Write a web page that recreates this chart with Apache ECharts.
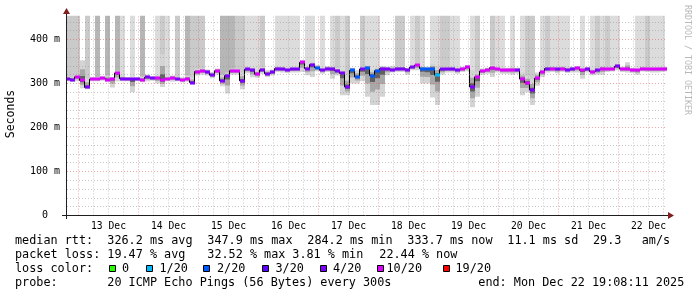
<!DOCTYPE html>
<html><head><meta charset="utf-8">
<script src="https://cdn.jsdelivr.net/npm/echarts@6/dist/echarts.min.js"></script>
<style>html,body{margin:0;padding:0;background:#fff}#c{width:697px;height:297px}</style>
</head><body><div id="c"></div>
<script>
// ---------- data (hours relative to 13 Dec 00:00) ----------
const START_HOUR = -4.6;
const END_HOUR = 235.4;
const STEP_HOURS = 2;
const Y_MAX = 454.5;

// median rtt (ms), one sample every STEP_HOURS
const median = [
 311,309,315,307,291,310,310,312,309,311,
 324,311,310,310,310,308,314,312,312,308,
 311,313,310,308,311,302,327,329,326,319,
 329,306,318,329,328,306,332,330,321,331,
 322,326,334,333,331,332,332,348,334,343,
 336,330,334,334,329,323,292,330,315,333,
 336,318,329,334,333,331,334,334,331,337,
 342,334,333,334,319,332,333,333,330,333,
 337,292,315,328,330,336,332,330,330,331,
 331,310,302,285,312,326,334,334,332,334,
 331,333,335,330,332,327,330,334,333,334,
 339,333,332,330,330,334,333,332,332,333,
 334];
// lost pings out of 20 per sample
const lossCount = [
 4,4,10,10,4,10,10,10,10,10,
 10,4,4,4,4,10,4,4,10,10,
 10,10,4,10,10,4,10,10,4,4,
 10,4,4,10,10,4,4,4,10,4,
 4,4,4,4,4,4,4,10,4,4,
 2,4,4,4,4,4,4,2,2,4,
 2,2,2,4,4,4,4,4,4,4,
 10,2,2,2,1,4,4,4,4,10,
 10,4,10,10,10,10,10,10,10,10,
 4,10,10,4,10,10,4,10,4,10,
 4,4,10,10,4,10,4,10,10,10,
 4,10,10,10,10,10,10,10,10,10,
 10];
// lowest ping per sample (ms)
const smokeMin = [
 305,304,305,289,287,305,305,306,304,291,
 305,305,305,280,305,303,305,306,300,292,
 305,304,305,303,304,298,318,320,318,312,
 320,294,277,320,320,287,323,314,313,322,
 315,318,326,325,324,325,325,326,319,315,
 328,322,326,311,318,273,273,300,300,305,
 270,251,251,270,319,325,326,326,320,330,
 330,300,300,268,251,320,325,325,322,326,
 328,246,270,320,322,315,325,322,322,320,
 322,273,280,251,295,315,325,326,323,326,
 324,325,325,311,325,319,320,320,326,327,
 330,326,325,324,320,327,326,325,325,326,
 327];
// highest on-scale ping per sample (ms)
const smokeMax = [
 316,314,318,353,312,314,315,316,318,315,
 328,318,315,314,314,316,320,316,318,366,
 316,318,315,314,318,315,334,334,332,326,
 334,320,325,334,334,325,338,336,330,338,
 330,332,340,338,336,338,338,352,340,348,
 342,336,340,338,336,330,318,336,330,338,
 342,332,336,340,338,340,340,340,336,342,
 346,340,338,344,340,338,338,338,336,338,
 342,330,325,334,336,342,338,336,336,337,
 336,325,318,310,325,332,340,340,338,340,
 338,338,340,336,338,334,336,340,338,338,
 345,338,348,336,334,338,338,337,337,338,
 338];
// density of pings above the graph top (0 = none .. 3 = many)
const upperSmoke = [
 2,2,2,0,2,0,3,0,3,0,3,1,0,1,0,3,0,0,1,2,1,0,2,0,3,
 2,2,2,0,0,0,3,3,3,2,2,1,1,1,2,0,0,1,1,1,1,1,0,1,1,
 0,1,0,1,2,1,2,0,0,2,1,1,1,0,0,0,2,2,0,1,2,1,0,1,1,
 2,2,1,1,0,0,1,2,0,0,2,1,1,0,1,0,1,2,2,0,1,2,1,1,1,
 1,0,0,1,0,1,2,1,2,1,1,0,0,0,1,1,2,1,1,1,0];

const dayLabels = ['13 Dec','14 Dec','15 Dec','16 Dec','17 Dec','18 Dec','19 Dec','20 Dec','21 Dec','22 Dec'];
const yTickValues = [0,100,200,300,400];
const yTickLabels = ['0  ','100 m','200 m','300 m','400 m'];
const lossLevels = [0,1,2,3,4,10,19];
const lossLabels = ['0','1/20','2/20','3/20','4/20','10/20','19/20'];
const lossColors = ['#26ff00','#00b8ff','#0059ff','#5e00ff','#7e00ff','#dd00ff','#ff0000'];
const statsRow1 = ['median rtt:','326.2 ms avg','347.9 ms max','284.2 ms min','333.7 ms now','11.1 ms sd','29.3','am/s'];
const statsRow2 = ['packet loss:','19.47 % avg','32.52 % max','3.81 % min','22.44 % now'];
const probeRow = ['probe:','20 ICMP Echo Pings (56 Bytes) every 300s','end: Mon Dec 22 19:08:11 2025'];

// ---------- layout ----------
const FONT = '"DejaVu Sans Mono", monospace';
const LEG_FONT = '11.8px ' + FONT;
const row1X = [15,107.3,207.3,307.3,407.3,507.3,593,641.7];
const row2X = [15,107.3,207.3,292.3,379.3];
const row4X = [15,107.3,478.3];
const rowY = [241,255,268.8,282.5];
const sqX = [109,146,203,262,320,377,443];
const sqLabelX = [122,159.5,217,275.5,333,386.5,455.5];
const GRID_MINOR = 'rgba(143,143,143,0.5)';
const GRID_MAJOR = 'rgba(222,79,79,0.5)';

function lossColor(n){let c=lossColors[0];for(let k=0;k<lossLevels.length;k++){if(n>=lossLevels[k])c=lossColors[k];}return c;}
const times = median.map((_,i)=>START_HOUR+i*STEP_HOURS);

const chart = echarts.init(document.getElementById('c'), null, {renderer:'canvas'});

function binX(api,t){
  const a = api.coord([t-STEP_HOURS/2,0])[0], b = api.coord([t+STEP_HOURS/2,0])[0];
  return [Math.round(a), Math.round(b)];
}
const upperShades = [null,'#dcdcdc','#cacaca','#b6b6b6'];

const gridMarks = [];
for(let h=0; h<=END_HOUR; h+=6){
  const major = h%24===0;
  gridMarks.push({xAxis:h, lineStyle:{color: major?GRID_MAJOR:GRID_MINOR, type:[1,2], width:1}});
}
for(let v=20; v<Y_MAX; v+=20){
  const major = v%100===0;
  gridMarks.push({yAxis:v, lineStyle:{color: major?GRID_MAJOR:GRID_MINOR, type:[1,2], width:1}});
}

const graphics = [];
graphics.push({type:'line', shape:{x1:62,y1:215.5,x2:669,y2:215.5}, style:{stroke:'#1f1f1f',lineWidth:1}, z:100});
graphics.push({type:'line', shape:{x1:66.5,y1:219,x2:66.5,y2:13}, style:{stroke:'#1f1f1f',lineWidth:1}, z:100});
graphics.push({type:'polygon', shape:{points:[[668,212],[674,215.5],[668,219]]}, style:{fill:'#801f1f'}, z:101});
graphics.push({type:'polygon', shape:{points:[[63,14],[66.5,8],[70,14]]}, style:{fill:'#801f1f'}, z:101});
graphics.push({type:'text', x:11, y:114, rotation:Math.PI/2, style:{text:'Seconds', font:'11.5px '+FONT, fill:'#000', align:'center', verticalAlign:'middle'}, z:100});
graphics.push({type:'text', x:687.5, y:60, rotation:-Math.PI/2, style:{text:'RRDTOOL / TOBI OETIKER', font:'8.3px '+FONT, fill:'#b8b8b8', align:'center', verticalAlign:'middle'}, z:100});
statsRow1.forEach((s,k)=>graphics.push({type:'text', x:row1X[k], y:rowY[0], style:{text:s, font:LEG_FONT, fill:'#000', align:'left', verticalAlign:'middle'}, z:100}));
statsRow2.forEach((s,k)=>graphics.push({type:'text', x:row2X[k], y:rowY[1], style:{text:s, font:LEG_FONT, fill:'#000', align:'left', verticalAlign:'middle'}, z:100}));
graphics.push({type:'text', x:15, y:rowY[2], style:{text:'loss color:', font:LEG_FONT, fill:'#000', align:'left', verticalAlign:'middle'}, z:100});
lossLabels.forEach((s,k)=>{
  graphics.push({type:'rect', shape:{x:sqX[k]+0.5,y:265.5,width:6,height:6}, style:{fill:lossColors[k], stroke:'#000', lineWidth:1}, z:100});
  graphics.push({type:'text', x:sqLabelX[k], y:rowY[2], style:{text:s, font:LEG_FONT, fill:'#000', align:'left', verticalAlign:'middle'}, z:100});
});
probeRow.forEach((s,k)=>graphics.push({type:'text', x:row4X[k], y:rowY[3], style:{text:s, font:LEG_FONT, fill:'#000', align:'left', verticalAlign:'middle'}, z:100}));

chart.setOption({
  animation:false,
  backgroundColor:'#ffffff',
  grid:{left:67, top:15.5, width:600, height:200, containLabel:false},
  xAxis:{type:'value', min:START_HOUR, max:END_HOUR,
    axisLine:{show:false}, axisTick:{show:false}, splitLine:{show:false},
    axisLabel:{customValues: dayLabels.map((_,k)=>12+24*k),
      formatter:v=>dayLabels[Math.round((v-12)/24)]||'',
      fontFamily:'DejaVu Sans Mono', fontSize:9.7, color:'#000', margin:6}},
  yAxis:{type:'value', min:0, max:Y_MAX, interval:100,
    axisLine:{show:false}, axisTick:{show:false}, splitLine:{show:false},
    axisLabel:{showMaxLabel:false, formatter:v=>{const k=yTickValues.indexOf(v);return k>=0?yTickLabels[k]:'';},
      fontFamily:'DejaVu Sans Mono', fontSize:10, color:'#000', margin:7}},
  graphic: graphics,
  series:[
    {type:'custom', name:'upper', z:1, clip:true, silent:true,
     data: times.map((t,i)=>[t, median[i]]),
     renderItem:(params,api)=>{
       const i = params.dataIndex, lvl = upperSmoke[i]; if(!lvl) return null;
       const t = times[i];
       const [x0,x1] = binX(api, t);
       const yT = api.coord([t, Y_MAX])[1], yB = api.coord([t, median[i]])[1];
       return {type:'rect', shape:{x:x0,y:yT,width:x1-x0,height:yB-yT}, style:{fill:upperShades[lvl]}};
     }},
    {type:'custom', name:'smoke', z:2, clip:true, silent:true,
     data: times.map((t,i)=>[t, median[i]]),
     renderItem:(params,api)=>{
       const i = params.dataIndex, t = times[i], lo = smokeMin[i], hi = smokeMax[i], md = median[i];
       const [x0,x1] = binX(api,t);
       const layers=[[1,'#d4d4d4'],[0.55,'#a8a8a8'],[0.22,'#606060']];
       return {type:'group', children: layers.map(([f,c])=>{
         const yT = api.coord([t, md+(hi-md)*f])[1], yB = api.coord([t, md-(md-lo)*f])[1];
         return {type:'rect', shape:{x:x0,y:yT,width:x1-x0,height:Math.max(1,yB-yT)}, style:{fill:c}};
       })};
     }},
    {type:'line', name:'grid', z:3, data:[], silent:true,
     markLine:{silent:true, symbol:['none','none'], label:{show:false}, animation:false,
       emphasis:{disabled:true}, data:gridMarks}},
    {type:'line', name:'median', z:4, step:'middle', symbol:'none', silent:true,
     data: times.map((t,i)=>[t, median[i]]),
     lineStyle:{color:'#000', width:1}},
    {type:'custom', name:'loss', z:5, clip:true, silent:true,
     data: times.map((t,i)=>[t, median[i]]),
     renderItem:(params,api)=>{
       const i = params.dataIndex, t = times[i];
       const [x0,x1] = binX(api,t);
       const y = api.coord([t, median[i]])[1];
       return {type:'rect', shape:{x:x0,y:Math.round(y)-1.5,width:x1-x0,height:3}, style:{fill:lossColor(lossCount[i])}};
     }}
  ]
});
</script></body></html>
